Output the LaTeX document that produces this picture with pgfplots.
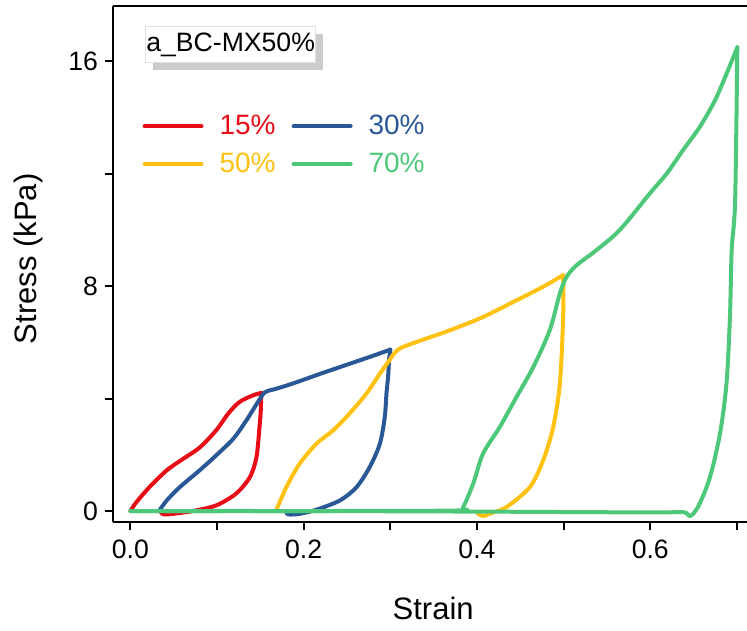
\documentclass[border=0pt]{standalone}
\usepackage{fontspec}
\setmainfont{Liberation Sans}
\usepackage{pgfplots}
\pgfplotsset{compat=1.18}
\usetikzlibrary{shadows}

\definecolor{c15}{RGB}{232,12,22}
\definecolor{c30}{RGB}{42,88,150}
\definecolor{c50}{RGB}{255,194,18}
\definecolor{c70}{RGB}{76,200,120}

\begin{document}
\begin{tikzpicture}
\begin{axis}[
  scale only axis, width=317pt, height=258pt,
  xmin=-0.0201, xmax=0.7117, ymin=-0.39, ymax=17.96,
  axis x line=box, axis y line*=left,
  axis line style={-, line width=1pt},
  tick align=outside, xtick pos=lower, ytick pos=left,
  major tick length=4pt, minor tick length=4pt,
  every tick/.style={black, line width=1pt},
  xtick={0,0.2,0.4,0.6}, minor xtick={0.1,0.3,0.5,0.7},
  ytick={0,8,16}, minor ytick={4,12},
  /pgf/number format/assume math mode=true,
  ticklabel style={font=\fontsize{13.3}{16}\selectfont},
  xticklabel style={yshift=-1.5pt, /pgf/number format/.cd, fixed, fixed zerofill, precision=1},
  xlabel={Strain}, ylabel={Stress (kPa)},
  label style={font=\fontsize{15.5}{18}\selectfont},
  xlabel style={at={(axis description cs:0.505,-0.167)}, anchor=center},
  ylabel style={at={(axis description cs:-0.133,0.51)}, anchor=center},
  legend columns=2,
  legend style={at={(axis description cs:0.046,0.797)}, anchor=north west,
    draw=none, fill=none, inner sep=0pt,
    font=\fontsize{14}{16}\selectfont,
    column sep=6pt, row sep=3.5pt,
    nodes={inner sep=2pt}},
  legend image code/.code={\draw[#1] (0pt,0pt) -- (28.5pt,0pt);},
  every axis plot/.append style={line width=2pt, line join=round, line cap=round,
    smooth, tension=0.5},
]
% 15 %: loading, then unloading
\addplot[c15] coordinates {
 (0,0) (0.007,0.32) (0.022,0.85) (0.042,1.45) (0.061,1.86) (0.080,2.26)
 (0.099,2.87) (0.113,3.47) (0.126,3.88) (0.142,4.12) (0.151,4.20)};
\addlegendentry{\textcolor{c15}{15\%}}
\addplot[c15, forget plot] coordinates {
 (0.151,4.20) (0.1505,3.60) (0.149,2.99) (0.1455,1.92) (0.138,1.21) (0.122,0.62)
 (0.099,0.20) (0.072,0.00) (0.049,-0.10) (0.038,-0.12) (0.035,-0.03)};
% 30 %
\addplot[c30] coordinates {
 (0.033,0) (0.042,0.38) (0.057,0.85) (0.080,1.45) (0.099,1.98) (0.119,2.58)
 (0.134,3.23) (0.146,3.82) (0.155,4.22) (0.165,4.32) (0.18,4.46) (0.20,4.67)
 (0.22,4.89) (0.24,5.10) (0.26,5.31) (0.28,5.52) (0.300,5.74)};
\addlegendentry{\textcolor{c30}{30\%}}
\addplot[c30, forget plot] coordinates {
 (0.300,5.74) (0.2985,5.36) (0.2975,4.8) (0.2956,4.2) (0.2936,3.35) (0.288,2.40)
 (0.2763,1.57) (0.261,0.85) (0.242,0.38) (0.215,0.05) (0.1955,-0.10)
 (0.182,-0.12) (0.180,-0.03)};
% 50 %
\addplot[c50] coordinates {
 (0.168,0) (0.180,0.85) (0.1955,1.69) (0.215,2.40) (0.234,2.87) (0.253,3.47)
 (0.2725,4.18) (0.288,4.89) (0.299,5.36) (0.303,5.55) (0.311,5.78)
 (0.330,6.01) (0.369,6.43) (0.407,6.90) (0.446,7.50) (0.476,7.97)
 (0.4995,8.39)};
\addlegendentry{\textcolor{c50}{50\%}}
\addplot[c50, forget plot] coordinates {
 (0.4995,8.39) (0.4995,6.9) (0.4957,4.53) (0.488,2.99) (0.4764,1.80)
 (0.461,0.85) (0.434,0.14) (0.415,-0.09) (0.407,-0.18) (0.401,-0.09)};
% 70 %
\addplot[c70] coordinates {
 (0,0) (0.2,0) (0.3765,0.02) (0.384,0.14) (0.3956,0.97) (0.407,2.04)
 (0.4264,2.99) (0.4457,4.06) (0.465,5.12) (0.484,6.43) (0.4957,7.74)
 (0.5035,8.33) (0.515,8.74) (0.538,9.28) (0.565,10.0) (0.5997,11.30)
 (0.619,12.0) (0.638,12.84) (0.6574,13.67) (0.6767,14.73) (0.7005,16.49)};
\addlegendentry{\textcolor{c70}{70\%}}
\addplot[c70, forget plot] coordinates {
 (0.7005,16.49) (0.698,11.05) (0.694,9.28) (0.692,6.9) (0.688,4.53) (0.6805,2.75)
 (0.669,1.21) (0.657,0.26) (0.6497,-0.09) (0.645,-0.18) (0.638,-0.04)
 (0.6,-0.05) (0.4,-0.02) (0.2,0) (0,0)};
\node[draw=gray!25, fill=white, inner sep=0pt, minimum width=85pt,
  minimum height=18pt, font=\fontsize{13.3}{16}\selectfont,
  drop shadow={shadow xshift=3.5pt, shadow yshift=-3.5pt, fill=gray!40, opacity=1}]
  at (axis description cs:0.1856,0.925) {a\_BC-MX50\%};
\end{axis}
\pgfresetboundingbox
\path[use as bounding box] (-56.5pt,-54pt) rectangle (317pt,261pt);
\end{tikzpicture}
\end{document}
